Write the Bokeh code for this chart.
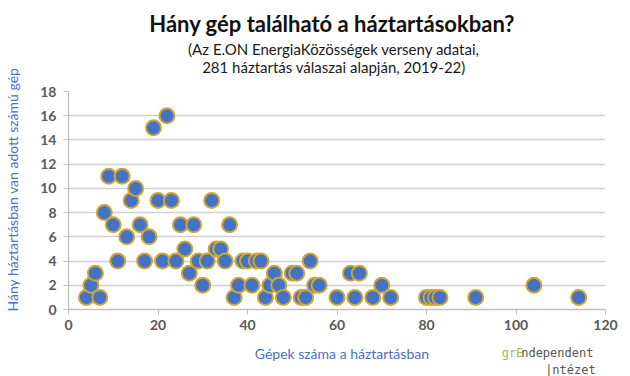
import math
from bokeh.plotting import figure
from bokeh.models import Label, FixedTicker, Range1d, ColumnDataSource
from bokeh.layouts import column, row
from bokeh.embed import file_html
from bokeh.resources import INLINE

# ---- data ----
gepek_szama = [4, 5, 6, 7, 8, 9, 10, 11, 12, 13, 14, 15, 16, 17, 18, 19, 20, 21, 22, 23,
               24, 25, 26, 27, 28, 29, 30, 31, 32, 33, 34, 35, 36, 37, 38, 39, 40, 41, 42, 43,
               44, 45, 46, 47, 48, 50, 51, 52, 53, 54, 55, 56, 60, 63, 64, 65, 68, 70, 72,
               80, 81, 82, 83, 91, 104, 114]
haztartasok = [1, 2, 3, 1, 8, 11, 7, 4, 11, 6, 9, 10, 7, 4, 6, 15, 9, 4, 16, 9,
               4, 7, 5, 3, 7, 4, 2, 4, 9, 5, 5, 4, 7, 1, 2, 4, 4, 2, 4, 4,
               1, 2, 3, 2, 1, 3, 3, 1, 1, 4, 2, 2, 1, 3, 1, 3, 1, 2, 1,
               1, 1, 1, 1, 1, 2, 1]
x_ticks = [0, 20, 40, 60, 80, 100, 120]
y_ticks = [0, 2, 4, 6, 8, 10, 12, 14, 16, 18]

title_text = "Hány gép található a háztartásokban?"
subtitle_1 = "(Az E.ON EnergiaKözösségek verseny adatai,"
subtitle_2 = "281 háztartás válaszai alapján, 2019-22)"
y_title = "Hány háztartásban van adott számú gép"
x_title = "Gépek száma a háztartásban"
logo_1a, logo_1b, logo_2 = "grE", "ndependent", "|ntézet"

# ---- layout (pixels) ----
W, H = 630, 376
SIDE_W = 25          # strip holding the rotated y title
TOP_H = 78           # header strip
BOT_H = 36           # footer strip
MAIN_H = H - TOP_H - BOT_H
CW = W - SIDE_W
L, R, T, B = 68, 605, 91, 309
X0, X1, Y0, Y1 = 0, 120, 0, 18

BLUE_TXT = "#4A72C0"


def strip(width, height):
    s = figure(width=width, height=height, output_backend="svg", toolbar_location=None,
               x_range=Range1d(0, width), y_range=Range1d(height, 0),
               x_axis_type=None, y_axis_type=None,
               min_border_left=0, min_border_right=0,
               min_border_top=0, min_border_bottom=0)
    s.outline_line_color = None
    s.grid.grid_line_color = None
    s.background_fill_color = "white"
    s.border_fill_color = "white"
    return s


def add_label(fig, text, px, py, size, color, style="normal", align="center",
              font="Lato", angle=0.0):
    fig.add_layout(Label(x=px, y=py, text=text, text_font=font,
                         text_font_size=size, text_color=color,
                         text_font_style=style, text_align=align,
                         text_baseline="middle", angle=angle))


# left strip: y title
side = strip(SIDE_W, H)
add_label(side, y_title, 12, 189, "14px", BLUE_TXT, angle=math.pi / 2)

# header (global x minus SIDE_W)
top = strip(CW, TOP_H)
add_label(top, title_text, 322 - SIDE_W, 23, "22px", "#111111", "bold")
add_label(top, subtitle_1, 324 - SIDE_W, 48, "15px", "#1a1a1a")
add_label(top, subtitle_2, 324 - SIDE_W, 66, "15px", "#1a1a1a")

# main chart
p = figure(width=CW, height=MAIN_H, output_backend="svg", toolbar_location=None,
           x_range=Range1d(X0, X1), y_range=Range1d(Y0, Y1),
           min_border_left=L - SIDE_W, min_border_right=W - R,
           min_border_top=T - TOP_H, min_border_bottom=TOP_H + MAIN_H - B)
p.outline_line_color = None
p.background_fill_color = "white"
p.border_fill_color = "white"

src = ColumnDataSource(dict(x=gepek_szama, y=haztartasok))
p.scatter("x", "y", source=src, size=15, fill_color="#4472C4",
          line_color="#CFA636", line_width=2)

p.xaxis.ticker = FixedTicker(ticks=x_ticks)
p.yaxis.ticker = FixedTicker(ticks=y_ticks)
p.xgrid.grid_line_color = None
p.ygrid.grid_line_color = "#d0d0d0"
p.ygrid.grid_line_width = 1.4
for ax in (p.xaxis[0], p.yaxis[0]):
    ax.axis_line_color = "#bfbfbf"
    ax.axis_line_width = 1.3
    ax.major_tick_line_color = "#bfbfbf"
    ax.major_tick_out = 5
    ax.major_tick_in = 0
    ax.minor_tick_line_color = None
    ax.major_label_text_font = "Lato"
    ax.major_label_text_font_size = "14px"
    ax.major_label_text_font_style = "bold"
    ax.major_label_text_color = "#595959"
p.xaxis.major_label_standoff = 5
p.yaxis.major_label_standoff = 7

# footer (global x minus SIDE_W, global y minus 340)
bot = strip(CW, BOT_H)
add_label(bot, x_title, 333 - SIDE_W, 13, "14px", BLUE_TXT)
add_label(bot, logo_1a, 513 - SIDE_W, 12, "12px", "#9BBB59", align="left", font="DejaVu Sans Mono")
add_label(bot, logo_1b, 535 - SIDE_W, 12, "12px", "#555555", align="left", font="DejaVu Sans Mono")
add_label(bot, logo_2, 562 - SIDE_W, 29, "12px", "#555555", align="left", font="DejaVu Sans Mono")

layout = row(side, column(top, p, bot, spacing=0), spacing=0)
open("out.html", "w").write(file_html(layout, INLINE))
